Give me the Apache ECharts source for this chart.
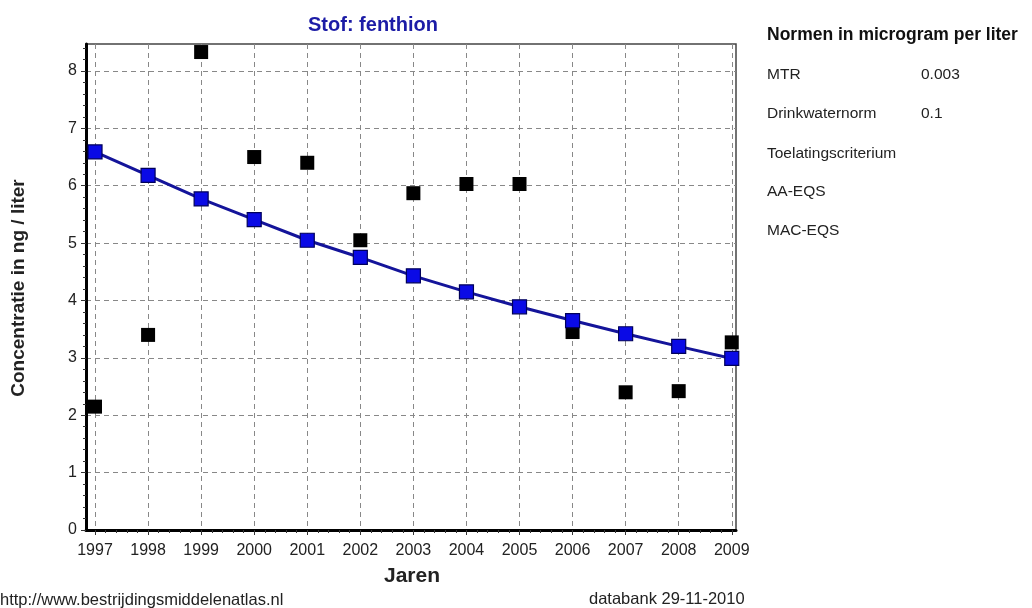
<!DOCTYPE html>
<html>
<head>
<meta charset="utf-8">
<script src="https://cdn.jsdelivr.net/npm/echarts@6/dist/echarts.min.js"></script>
<style>html,body{margin:0;padding:0;background:#fff}#c{width:1032px;height:608px}</style>
</head>
<body>
<div id="c"></div>
<script>
// ---- data ----
const years = [1997, 1998, 1999, 2000, 2001, 2002, 2003, 2004, 2005, 2006, 2007, 2008, 2009];
const measured = [2.15, 3.40, 8.33, 6.50, 6.40, 5.05, 5.87, 6.03, 6.03, 3.45, 2.40, 2.42, 3.27];
const trend = [6.59, 6.18, 5.77, 5.41, 5.05, 4.75, 4.43, 4.15, 3.89, 3.65, 3.42, 3.20, 2.99];
const yTicks = [0, 1, 2, 3, 4, 5, 6, 7, 8];
const normLabels = ['MTR', 'Drinkwaternorm', 'Toelatingscriterium', 'AA-EQS', 'MAC-EQS'];
const normValues = ['0.003', '0.1', '', '', ''];
const titleText = 'Stof: fenthion';
const yName = 'Concentratie in ng / liter';
const xName = 'Jaren';
const normTitle = 'Normen in microgram per liter';
const footLeft = 'http://www.bestrijdingsmiddelenatlas.nl';
const footRight = 'databank 29-11-2010';

const FONT = '"Liberation Sans", Arial, sans-serif';
const minorX = [];
for (let i = 0; i < years.length - 1; i++) {
  for (let k = 1; k < 5; k++) minorX.push(years[i] + k / 5);
}

const chart = echarts.init(document.getElementById('c'), null, {renderer: 'canvas'});

const graphics = [
  {type: 'text', x: 373, y: 25, style: {text: titleText, font: 'bold 20px ' + FONT, fill: '#1c1ca6', textAlign: 'center', textVerticalAlign: 'middle'}},
  {type: 'text', x: 19, y: 288, rotation: Math.PI / 2, style: {text: yName, font: 'bold 19px ' + FONT, fill: '#222', textAlign: 'center', textVerticalAlign: 'middle'}},
  {type: 'text', x: 412, y: 576, style: {text: xName, font: 'bold 21px ' + FONT, fill: '#222', textAlign: 'center', textVerticalAlign: 'middle'}},
  {type: 'text', x: 0, y: 600, style: {text: footLeft, font: '16.5px ' + FONT, fill: '#222', textAlign: 'left', textVerticalAlign: 'middle'}},
  {type: 'text', x: 589, y: 599, style: {text: footRight, font: '16.5px ' + FONT, fill: '#222', textAlign: 'left', textVerticalAlign: 'middle'}},
  {type: 'text', x: 767, y: 35, style: {text: normTitle, font: 'bold 17.5px ' + FONT, fill: '#111', textAlign: 'left', textVerticalAlign: 'middle'}}
];
const rowY = [75, 114, 154, 192, 231];
normLabels.forEach((t, i) => {
  graphics.push({type: 'text', x: 767, y: rowY[i], style: {text: t, font: '15.5px ' + FONT, fill: '#222', textAlign: 'left', textVerticalAlign: 'middle'}});
  if (normValues[i]) graphics.push({type: 'text', x: 921, y: rowY[i], style: {text: normValues[i], font: '15.5px ' + FONT, fill: '#222', textAlign: 'left', textVerticalAlign: 'middle'}});
});

const option = {
  animation: false,
  backgroundColor: '#fff',
  grid: {left: 86, top: 44, width: 650, height: 486, show: true, borderColor: '#444', borderWidth: 1.5, backgroundColor: 'transparent'},
  xAxis: [
    {
      type: 'value', min: 1996.83, max: 2009.08,
      axisLine: {show: true, onZero: false, lineStyle: {color: '#000', width: 3}},
      axisTick: {show: true, inside: false, length: 5, customValues: years, lineStyle: {color: '#333', width: 1}},
      axisLabel: {customValues: years, color: '#222', fontSize: 16, fontFamily: FONT, margin: 13, formatter: v => String(v)},
      splitLine: {show: true, customValues: years, lineStyle: {color: '#888', type: [5, 4], width: 1}},
      minorTick: {show: false}
    },
    {
      type: 'value', min: 1996.83, max: 2009.08, position: 'bottom',
      axisLine: {show: false},
      axisTick: {show: true, inside: false, length: 3, customValues: minorX, lineStyle: {color: '#333', width: 1}},
      axisLabel: {show: false},
      splitLine: {show: false}
    }
  ],
  yAxis: {
    type: 'value', min: 0, max: 8.47, interval: 1,
    axisLine: {show: true, onZero: false, lineStyle: {color: '#000', width: 3}},
    axisTick: {show: true, inside: false, length: 5, customValues: yTicks, lineStyle: {color: '#333'}},
    axisLabel: {customValues: yTicks, color: '#222', fontSize: 16, fontFamily: FONT, margin: 9},
    splitLine: {show: true, lineStyle: {color: '#888', type: [5, 4], width: 1}},
    minorTick: {show: true, splitNumber: 5, length: 3, lineStyle: {color: '#333'}}
  },
  series: [
    {
      type: 'scatter', name: 'meting', xAxisIndex: 0,
      data: years.map((y, i) => [y, measured[i]]),
      symbol: 'rect', symbolSize: 14,
      itemStyle: {color: '#000', opacity: 1}, z: 3
    },
    {
      type: 'line', name: 'trend', xAxisIndex: 0,
      data: years.map((y, i) => [y, trend[i]]),
      symbol: 'rect', symbolSize: 14, showSymbol: true,
      lineStyle: {color: '#14149a', width: 3},
      itemStyle: {color: '#0a0ae6', borderColor: '#00005a', borderWidth: 1.2},
      z: 4
    }
  ],
  graphic: graphics
};
chart.setOption(option);
</script>
</body>
</html>
